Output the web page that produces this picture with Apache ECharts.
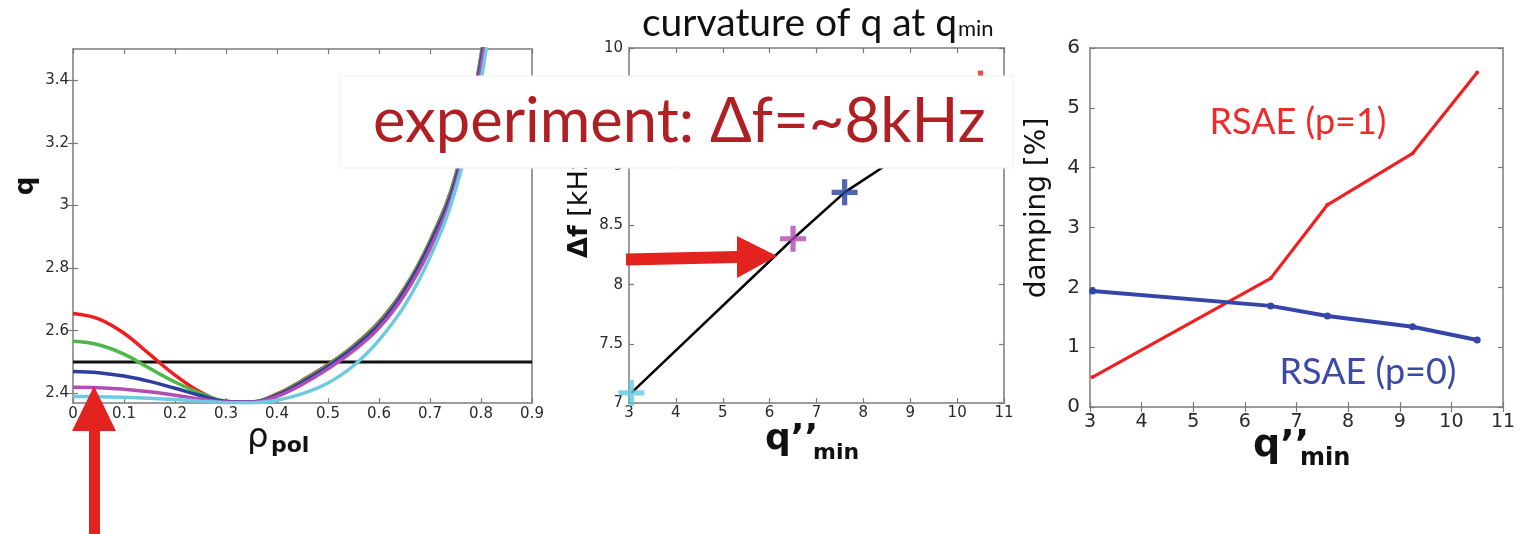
<!DOCTYPE html>
<html>
<head>
<meta charset="utf-8">
<script src="https://cdn.jsdelivr.net/npm/echarts@6/dist/echarts.min.js"></script>
<style>
  html, body { margin: 0; padding: 0; background: #ffffff; }
  #chart { width: 1520px; height: 534px; }
</style>
</head>
<body>
<div id="chart"></div>
<script>
// ---- Panel 1: q profiles versus rho_pol ----
const rho      = [0, 0.05, 0.1, 0.15, 0.2, 0.25, 0.3, 0.35, 0.4, 0.45, 0.5, 0.55, 0.6, 0.65, 0.7, 0.75, 0.8, 0.85];
const qRed     = [2.655, 2.638, 2.592, 2.525, 2.458, 2.404, 2.374, 2.372, 2.398, 2.442, 2.492, 2.552, 2.628, 2.736, 2.887, 3.095, 3.480, 4.10];
const qGreen   = [2.566, 2.555, 2.525, 2.480, 2.436, 2.400, 2.375, 2.372, 2.396, 2.440, 2.490, 2.550, 2.625, 2.733, 2.884, 3.090, 3.475, 4.10];
const qBlue    = [2.470, 2.466, 2.455, 2.438, 2.416, 2.393, 2.374, 2.372, 2.394, 2.436, 2.486, 2.545, 2.619, 2.727, 2.877, 3.080, 3.460, 4.08];
const qMagenta = [2.419, 2.418, 2.413, 2.405, 2.394, 2.382, 2.372, 2.371, 2.390, 2.429, 2.478, 2.536, 2.609, 2.715, 2.862, 3.065, 3.440, 4.05];
const qCyan    = [2.390, 2.389, 2.387, 2.384, 2.380, 2.375, 2.370, 2.370, 2.378, 2.399, 2.433, 2.488, 2.570, 2.680, 2.835, 3.050, 3.400, 3.98];
const refRho   = [0, 0.9];
const refQ     = [2.5, 2.5];
const qTicks   = [2.4, 2.6, 2.8, 3.0, 3.2, 3.4];

// ---- Panel 2: frequency gap versus q'' at q_min ----
const qppMin      = [3.05, 6.5, 7.6, 9.25, 10.5];
const deltaF      = [7.085, 8.388, 8.78, 9.21, 9.70];
const pointColors = ['#62c9e0', '#b347b3', '#23409c', '#3cb43c', '#ee2020'];

// ---- Panel 3: damping versus q'' at q_min ----
const dampP1 = [0.50, 2.15, 3.38, 4.24, 5.59];
const dampP0 = [1.94, 1.69, 1.52, 1.34, 1.12];

const zip = (xs, ys) => xs.map((x, i) => [x, ys[i]]);

const FONT = 'DejaVu Sans';
const TICK = { inside: true, length: 5, lineStyle: { color: '#7a7a7a', width: 1.2 } };
const plusPath = 'path://M4,0h2v4h4v2h-4v4h-2v-4h-4v-2h4z';

function xAx(grid, min, max, interval, labelSize, margin) {
  return [
    { gridIndex: grid, type: 'value', min, max, interval, position: 'bottom',
      axisLine: { show: false }, splitLine: { show: false }, axisTick: TICK,
      axisLabel: { fontFamily: FONT, fontSize: labelSize, color: '#2a2a2a', margin } },
    { gridIndex: grid, type: 'value', min, max, interval, position: 'top',
      axisLine: { show: false }, splitLine: { show: false }, axisTick: TICK,
      axisLabel: { show: false } }
  ];
}
function yAx(grid, min, max, interval, labelSize, margin, custom) {
  const tick = Object.assign({}, TICK, custom ? { customValues: custom } : {});
  const lab = { fontFamily: FONT, fontSize: labelSize, color: '#2a2a2a', margin };
  if (custom) lab.customValues = custom;
  const base = { gridIndex: grid, type: 'value', min, max,
    axisLine: { show: false }, splitLine: { show: false } };
  if (interval) base.interval = interval;
  return [
    Object.assign({}, base, { position: 'left', axisTick: tick, axisLabel: lab }),
    Object.assign({}, base, { position: 'right', axisTick: tick, axisLabel: { show: false } })
  ];
}

const gridStyle = { show: true, borderColor: '#9c9c9c', borderWidth: 2, backgroundColor: 'transparent' };

function curve(name, ys, color) {
  return { name, type: 'line', xAxisIndex: 0, yAxisIndex: 0, data: zip(rho, ys),
    smooth: 0.4, showSymbol: false, symbol: 'none',
    lineStyle: { color, width: 3.5 }, z: 3, clip: true };
}

const chart = echarts.init(document.getElementById('chart'), null, { renderer: 'canvas' });

const option = {
  animation: false,
  backgroundColor: '#ffffff',
  grid: [
    Object.assign({ left: 73, top: 49, width: 459, height: 354 }, gridStyle),
    Object.assign({ left: 629, top: 48, width: 375, height: 355 }, gridStyle),
    Object.assign({ left: 1090, top: 48, width: 413, height: 359 }, gridStyle)
  ],
  xAxis: [].concat(
    xAx(0, 0, 0.9, 0.1, 15, 4),
    xAx(1, 3, 11, 1, 15, 3),
    xAx(2, 3, 11, 1, 19, 6)
  ),
  yAxis: [].concat(
    yAx(0, 2.369, 3.5, null, 15, 4, qTicks),
    yAx(1, 7, 10, 0.5, 15, 6),
    yAx(2, 0, 6, 1, 20, 10)
  ),
  series: [
    { name: 'q = 2.5', type: 'line', xAxisIndex: 0, yAxisIndex: 0, data: zip(refRho, refQ),
      symbol: 'none', lineStyle: { color: '#111', width: 3 }, z: 2 },
    curve('red', qRed, '#f01d1d'),
    curve('green', qGreen, '#4cb84a'),
    curve('blue', qBlue, '#2e3e9e'),
    curve('magenta', qMagenta, '#b34db3'),
    curve('cyan', qCyan, '#6ccbe0'),

    { name: 'Δf fit', type: 'line', xAxisIndex: 2, yAxisIndex: 2, data: zip(qppMin, deltaF),
      symbol: 'none', lineStyle: { color: '#000', width: 2.5 }, z: 2 },
    { name: 'Δf points', type: 'scatter', xAxisIndex: 2, yAxisIndex: 2, clip: false,
      symbol: plusPath, symbolSize: 26, z: 4,
      data: qppMin.map((x, i) => ({ value: [x, deltaF[i]], itemStyle: { color: pointColors[i] } })) },

    { name: 'RSAE (p=1)', type: 'line', xAxisIndex: 4, yAxisIndex: 4, data: zip(qppMin, dampP1),
      symbol: 'circle', symbolSize: 4, itemStyle: { color: '#f02020' },
      lineStyle: { color: '#f02020', width: 3.2 }, z: 3 },
    { name: 'RSAE (p=0)', type: 'line', xAxisIndex: 4, yAxisIndex: 4, data: zip(qppMin, dampP0),
      symbol: 'circle', symbolSize: 7, itemStyle: { color: '#3545a8' },
      lineStyle: { color: '#3545a8', width: 4 }, z: 3 }
  ],
  graphic: [
    // axis names, panel 1
    { type: 'text', x: 26, y: 186, rotation: Math.PI / 2, z: 50,
      style: { text: 'q', fontFamily: FONT, fontWeight: 'bold', fontSize: 26, fill: '#111', align: 'center', verticalAlign: 'middle' } },
    { type: 'text', x: 247, y: 438, z: 50,
      style: { text: 'ρ', fontFamily: FONT, fontSize: 34, fill: '#111', align: 'left', verticalAlign: 'middle' } },
    { type: 'text', x: 271, y: 446, z: 50,
      style: { text: 'pol', fontFamily: FONT, fontWeight: 'bold', fontSize: 22, fill: '#111', align: 'left', verticalAlign: 'middle' } },

    // axis names, panel 2
    { type: 'text', x: 580, y: 258, rotation: Math.PI / 2, z: 50,
      style: { text: '{b|Δf} [kHz]', fontFamily: FONT, fontSize: 27, fill: '#111', align: 'left', verticalAlign: 'middle',
        rich: { b: { fontFamily: FONT, fontSize: 27, fontWeight: 'bold', fill: '#111' } } } },
    { type: 'text', x: 765, y: 440, z: 50,
      style: { text: 'q’’', fontFamily: FONT, fontWeight: 'bold', fontSize: 36, fill: '#111', align: 'left', verticalAlign: 'middle' } },
    { type: 'text', x: 813, y: 453, z: 50,
      style: { text: 'min', fontFamily: FONT, fontWeight: 'bold', fontSize: 22, fill: '#111', align: 'left', verticalAlign: 'middle' } },

    // axis names, panel 3
    { type: 'text', x: 1038, y: 208, rotation: Math.PI / 2, z: 50,
      style: { text: 'damping [%]', fontFamily: FONT, fontSize: 28, fill: '#111', align: 'center', verticalAlign: 'middle' } },
    { type: 'text', x: 1253, y: 446, z: 50,
      style: { text: 'q’’', fontFamily: FONT, fontWeight: 'bold', fontSize: 38, fill: '#111', align: 'left', verticalAlign: 'middle' } },
    { type: 'text', x: 1300, y: 459, z: 50,
      style: { text: 'min', fontFamily: FONT, fontWeight: 'bold', fontSize: 24, fill: '#111', align: 'left', verticalAlign: 'middle' } },

    // series labels, panel 3
    { type: 'text', x: 1298, y: 122, z: 50,
      style: { text: 'RSAE (p=1)', fontFamily: 'Lato', fontSize: 36, fill: '#ee2a2a', align: 'center', verticalAlign: 'middle' } },
    { type: 'text', x: 1368, y: 372, z: 50,
      style: { text: 'RSAE (p=0)', fontFamily: 'Lato', fontSize: 36, fill: '#3b4aa5', align: 'center', verticalAlign: 'middle' } },

    // title above panel 2
    { type: 'text', x: 642, y: 23, z: 50,
      style: { text: 'curvature of q at q', fontFamily: 'Lato', fontSize: 39, fill: '#111', align: 'left', verticalAlign: 'middle' } },
    { type: 'text', x: 958, y: 29, z: 50,
      style: { text: 'min', fontFamily: 'Lato', fontSize: 22, fill: '#111', align: 'left', verticalAlign: 'middle' } },

    // annotation box
    { type: 'rect', z: 80, shape: { x: 340, y: 76, width: 673, height: 92 },
      style: { fill: '#ffffff', stroke: '#f1f1f1', lineWidth: 1 } },
    { type: 'text', x: 373, y: 122, z: 90,
      style: { text: 'experiment: Δf=~8kHz', fontFamily: 'Lato', fontSize: 61.5, fill: '#b01f24', align: 'left', verticalAlign: 'middle' } },

    // red arrows
    { type: 'polygon', z: 95,
      shape: { points: [[89, 534], [100, 534], [100, 431], [116, 431], [94, 386], [72, 431], [89, 431]] },
      style: { fill: '#e3231f' } },
    { type: 'polygon', z: 95,
      shape: { points: [[626, 253.5], [737, 251], [737, 236], [777, 256], [737, 278], [737, 263], [626, 265.5]] },
      style: { fill: '#e3231f' } }
  ]
};

chart.setOption(option);
</script>
</body>
</html>
